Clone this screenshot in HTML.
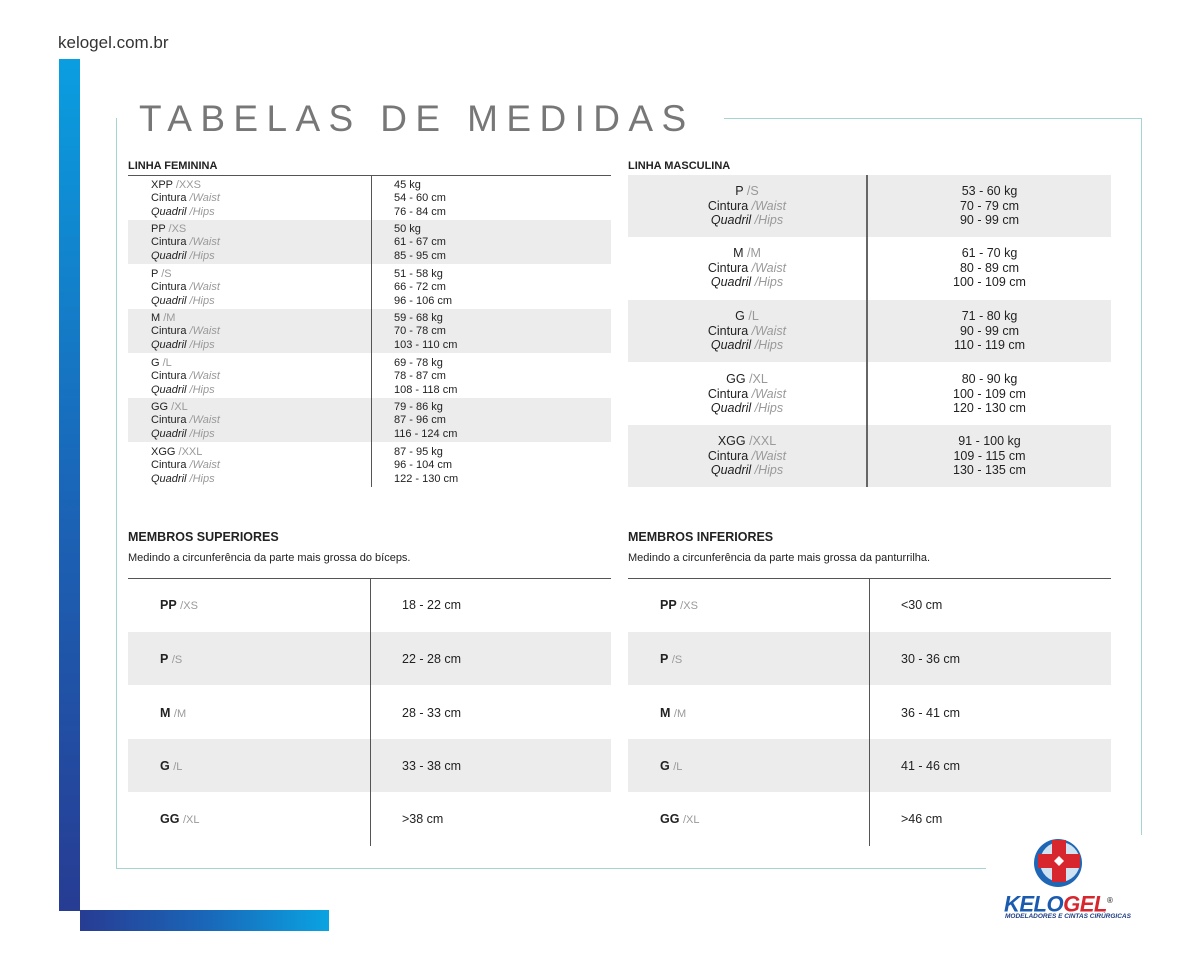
<!DOCTYPE html>
<html><head><meta charset="utf-8"><style>
*{margin:0;padding:0;box-sizing:border-box}
body{width:1200px;height:969px;background:#fff;position:relative;overflow:hidden;font-family:"Liberation Sans",sans-serif;color:#222}
.a{position:absolute}
.g{color:#999;font-weight:normal}
.gi{color:#999;font-style:italic}
.fr{position:absolute;font-size:11px;line-height:13.3px}
.row{position:absolute;left:0;right:0}
.gray{background:#ececec}
.mr{position:absolute;text-align:center;font-size:12.5px;line-height:14.6px}
.lr{position:absolute;font-size:12.5px}
.h{position:absolute;font-weight:bold;font-size:11px}
.h2{position:absolute;font-weight:bold;font-size:12.5px}
</style></head><body>
<div class="a" style="left:58px;top:33px;font-size:17px;color:#333">kelogel.com.br</div>
<div class="a" style="left:59px;top:59px;width:21px;height:852px;background:linear-gradient(#0a9ee0,#1a66b8 50%,#273c93)"></div>
<div class="a" style="left:80px;top:910px;width:249px;height:21px;background:linear-gradient(90deg,#273c93,#1a66b8 50%,#0aa3e2)"></div>
<!-- frame -->
<div class="a" style="left:116px;top:118px;width:1px;height:751px;background:#a6d4d0"></div>
<div class="a" style="left:116px;top:868px;width:870px;height:1px;background:#a6d4d0"></div>
<div class="a" style="left:1141px;top:118px;width:1px;height:717px;background:#a6d4d0"></div>
<div class="a" style="left:724px;top:118px;width:418px;height:1px;background:#a6d4d0"></div>
<div class="a" style="left:139px;top:98px;font-size:37px;letter-spacing:8.4px;color:#777;font-weight:normal;white-space:nowrap">TABELAS DE MEDIDAS</div>

<!-- Feminina -->
<div class="h" style="left:128px;top:160px">LINHA FEMININA</div>
<div class="a" style="left:128px;top:175px;width:483px;height:312px">
<div class="a" style="left:0;top:0;width:483px;height:1px;background:#555"></div>
<div class="row gray" style="top:45px;height:44px"></div>
<div class="row gray" style="top:134px;height:44px"></div>
<div class="row gray" style="top:223px;height:44px"></div>
<div class="a" style="left:243px;top:0;width:1px;height:312px;background:#555"></div>
<div class="fr" style="left:23px;top:4px">XPP <span class="g">/XXS</span><br>Cintura <span class="gi">/Waist</span><br><i>Quadril</i> <span class="gi">/Hips</span></div>
<div class="fr" style="left:266px;top:4px">45 kg<br>54 - 60 cm<br>76 - 84 cm</div>
<div class="fr" style="left:23px;top:48px">PP <span class="g">/XS</span><br>Cintura <span class="gi">/Waist</span><br><i>Quadril</i> <span class="gi">/Hips</span></div>
<div class="fr" style="left:266px;top:48px">50 kg<br>61 - 67 cm<br>85 - 95 cm</div>
<div class="fr" style="left:23px;top:93px">P <span class="g">/S</span><br>Cintura <span class="gi">/Waist</span><br><i>Quadril</i> <span class="gi">/Hips</span></div>
<div class="fr" style="left:266px;top:93px">51 - 58 kg<br>66 - 72 cm<br>96 - 106 cm</div>
<div class="fr" style="left:23px;top:137px">M <span class="g">/M</span><br>Cintura <span class="gi">/Waist</span><br><i>Quadril</i> <span class="gi">/Hips</span></div>
<div class="fr" style="left:266px;top:137px">59 - 68 kg<br>70 - 78 cm<br>103 - 110 cm</div>
<div class="fr" style="left:23px;top:182px">G <span class="g">/L</span><br>Cintura <span class="gi">/Waist</span><br><i>Quadril</i> <span class="gi">/Hips</span></div>
<div class="fr" style="left:266px;top:182px">69 - 78 kg<br>78 - 87 cm<br>108 - 118 cm</div>
<div class="fr" style="left:23px;top:226px">GG <span class="g">/XL</span><br>Cintura <span class="gi">/Waist</span><br><i>Quadril</i> <span class="gi">/Hips</span></div>
<div class="fr" style="left:266px;top:226px">79 - 86 kg<br>87 - 96 cm<br>116 - 124 cm</div>
<div class="fr" style="left:23px;top:271px">XGG <span class="g">/XXL</span><br>Cintura <span class="gi">/Waist</span><br><i>Quadril</i> <span class="gi">/Hips</span></div>
<div class="fr" style="left:266px;top:271px">87 - 95 kg<br>96 - 104 cm<br>122 - 130 cm</div>
</div>

<!-- Masculina -->
<div class="h" style="left:628px;top:160px">LINHA MASCULINA</div>
<div class="a" style="left:628px;top:175px;width:483px;height:312px">
<div class="row gray" style="top:0;height:62px"></div>
<div class="row gray" style="top:125px;height:62px"></div>
<div class="row gray" style="top:250px;height:62px"></div>
<div class="a" style="left:238px;top:0;width:2px;height:312px;background:#666"></div>
<div class="mr" style="left:0;width:238px;top:9px">P <span class="g">/S</span><br>Cintura <span class="gi">/Waist</span><br><i>Quadril</i> <span class="gi">/Hips</span></div>
<div class="mr" style="left:240px;width:243px;top:9px">53 - 60 kg<br>70 - 79 cm<br>90 - 99 cm</div>
<div class="mr" style="left:0;width:238px;top:71px">M <span class="g">/M</span><br>Cintura <span class="gi">/Waist</span><br><i>Quadril</i> <span class="gi">/Hips</span></div>
<div class="mr" style="left:240px;width:243px;top:71px">61 - 70 kg<br>80 - 89 cm<br>100 - 109 cm</div>
<div class="mr" style="left:0;width:238px;top:134px">G <span class="g">/L</span><br>Cintura <span class="gi">/Waist</span><br><i>Quadril</i> <span class="gi">/Hips</span></div>
<div class="mr" style="left:240px;width:243px;top:134px">71 - 80 kg<br>90 - 99 cm<br>110 - 119 cm</div>
<div class="mr" style="left:0;width:238px;top:197px">GG <span class="g">/XL</span><br>Cintura <span class="gi">/Waist</span><br><i>Quadril</i> <span class="gi">/Hips</span></div>
<div class="mr" style="left:240px;width:243px;top:197px">80 - 90 kg<br>100 - 109 cm<br>120 - 130 cm</div>
<div class="mr" style="left:0;width:238px;top:259px">XGG <span class="g">/XXL</span><br>Cintura <span class="gi">/Waist</span><br><i>Quadril</i> <span class="gi">/Hips</span></div>
<div class="mr" style="left:240px;width:243px;top:259px">91 - 100 kg<br>109 - 115 cm<br>130 - 135 cm</div>
</div>

<!-- Membros superiores -->
<div class="h2" style="left:128px;top:530px">MEMBROS SUPERIORES</div>
<div class="a" style="left:128px;top:552px;font-size:11px">Medindo a circunferência da parte mais grossa do bíceps.</div>
<div class="a" style="left:128px;top:578px;width:483px;height:268px">
<div class="a" style="left:0;top:0;width:483px;height:1px;background:#555"></div>
<div class="row gray" style="top:54px;height:53px"></div>
<div class="row gray" style="top:161px;height:53px"></div>
<div class="a" style="left:242px;top:0;width:1px;height:268px;background:#555"></div>
<div class="lr" style="left:32px;top:20px"><b>PP</b> <span class="g" style="font-size:11px">/XS</span></div><div class="lr" style="left:274px;top:20px">18 - 22 cm</div>
<div class="lr" style="left:32px;top:74px"><b>P</b> <span class="g" style="font-size:11px">/S</span></div><div class="lr" style="left:274px;top:74px">22 - 28 cm</div>
<div class="lr" style="left:32px;top:128px"><b>M</b> <span class="g" style="font-size:11px">/M</span></div><div class="lr" style="left:274px;top:128px">28 - 33 cm</div>
<div class="lr" style="left:32px;top:181px"><b>G</b> <span class="g" style="font-size:11px">/L</span></div><div class="lr" style="left:274px;top:181px">33 - 38 cm</div>
<div class="lr" style="left:32px;top:234px"><b>GG</b> <span class="g" style="font-size:11px">/XL</span></div><div class="lr" style="left:274px;top:234px">&gt;38 cm</div>
</div>

<!-- Membros inferiores -->
<div class="h2" style="left:628px;top:530px">MEMBROS INFERIORES</div>
<div class="a" style="left:628px;top:552px;font-size:11px">Medindo a circunferência da parte mais grossa da panturrilha.</div>
<div class="a" style="left:628px;top:578px;width:483px;height:268px">
<div class="a" style="left:0;top:0;width:483px;height:1px;background:#555"></div>
<div class="row gray" style="top:54px;height:53px"></div>
<div class="row gray" style="top:161px;height:53px"></div>
<div class="a" style="left:241px;top:0;width:1px;height:268px;background:#555"></div>
<div class="lr" style="left:32px;top:20px"><b>PP</b> <span class="g" style="font-size:11px">/XS</span></div><div class="lr" style="left:273px;top:20px">&lt;30 cm</div>
<div class="lr" style="left:32px;top:74px"><b>P</b> <span class="g" style="font-size:11px">/S</span></div><div class="lr" style="left:273px;top:74px">30 - 36 cm</div>
<div class="lr" style="left:32px;top:128px"><b>M</b> <span class="g" style="font-size:11px">/M</span></div><div class="lr" style="left:273px;top:128px">36 - 41 cm</div>
<div class="lr" style="left:32px;top:181px"><b>G</b> <span class="g" style="font-size:11px">/L</span></div><div class="lr" style="left:273px;top:181px">41 - 46 cm</div>
<div class="lr" style="left:32px;top:234px"><b>GG</b> <span class="g" style="font-size:11px">/XL</span></div><div class="lr" style="left:273px;top:234px">&gt;46 cm</div>
</div>

<!-- Logo -->
<svg class="a" style="left:1030px;top:836px" width="60" height="54" viewBox="0 0 60 54">
<circle cx="28" cy="27" r="24" fill="#1f66b5"/><circle cx="30" cy="26" r="20" fill="#cfe3f3"/>
<path d="M22 4h14v14h14v14H36v14H22V32H8V18h14z" fill="#d8262e"/>
<path d="M29 20l5 5-5 5-5-5z" fill="#fff"/>
</svg>
<div class="a" style="left:1004px;top:889px;font-size:22px;font-weight:bold;font-style:italic;letter-spacing:-0.5px;line-height:24px"><span style="color:#1a5bb0">KELO</span><span style="color:#d8262e">GEL</span><sup style="font-size:8px;color:#444">®</sup></div>
<div class="a" style="left:1005px;top:913px;font-size:6.5px;font-weight:bold;font-style:italic;color:#1d3c80">MODELADORES E CINTAS CIRÚRGICAS</div>
</body></html>
